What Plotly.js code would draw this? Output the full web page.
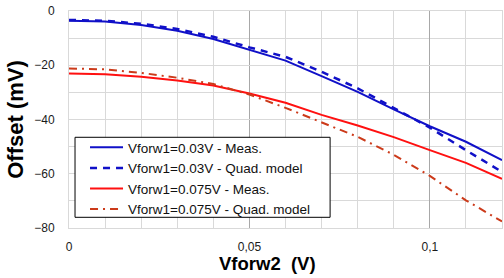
<!DOCTYPE html>
<html>
<head>
<meta charset="utf-8">
<script src="https://cdn.plot.ly/plotly-3.0.1.min.js"></script>
<style>html,body{margin:0;padding:0;background:#fff;}#chart{width:504px;height:278px;}</style>
</head>
<body>
<div id="chart"></div>
<script>
// Vforw2 (V)
var vforw2 = [0, 0.01, 0.02, 0.03, 0.04, 0.05, 0.06, 0.07, 0.08, 0.09, 0.10, 0.11, 0.12];
// Offset (mV)
var meas003 = [-3.6, -3.9, -5.2, -7.3, -10.3, -14.4, -18.3, -24.0, -29.8, -36.3, -42.5, -48.2, -55.0];
var quad003 = [-3.3, -3.6, -4.7, -6.6, -9.5, -13.4, -16.9, -22.4, -28.5, -35.6, -43.0, -51.3, -59.3];
var meas0075 = [-23.0, -23.3, -24.2, -25.6, -27.5, -30.4, -33.8, -38.3, -42.2, -46.5, -51.3, -56.0, -61.9];
var quad0075 = [-21.2, -21.5, -22.8, -24.6, -26.9, -30.8, -35.7, -41.0, -46.4, -53.0, -60.8, -69.8, -77.6];
var seriesNames = ['Vforw1=0.03V - Meas.', 'Vforw1=0.03V - Quad. model', 'Vforw1=0.075V - Meas.', 'Vforw1=0.075V - Quad. model'];
var xTitle = 'Vforw2\u00a0\u00a0(V)';
var yTitle = 'Offset (mV)';

var traces = [
  {x: vforw2, y: meas003, name: seriesNames[0], mode: 'lines', line: {color: '#1010c8', width: 2}},
  {x: vforw2, y: quad003, name: seriesNames[1], mode: 'lines', line: {color: '#1010c8', width: 2.5, dash: '7px,6px'}},
  {x: vforw2, y: meas0075, name: seriesNames[2], mode: 'lines', line: {color: '#ff1010', width: 2}},
  {x: vforw2, y: quad0075, name: seriesNames[3], mode: 'lines', line: {color: '#cc3a1a', width: 2, dash: '8px,5px,2px,5px'}}
];

var font = 'Liberation Sans, Arial, sans-serif';
var layout = {
  width: 504, height: 278,
  margin: {l: 69, r: 2, t: 11, b: 50},
  paper_bgcolor: '#fff', plot_bgcolor: '#fff',
  separators: ',.',
  font: {family: font, size: 12, color: '#1a1a1a'},
  showlegend: true,
  legend: {
    x: 0.037, y: 0.442, xanchor: 'left', yanchor: 'top',
    bgcolor: 'rgba(0,0,0,0)', borderwidth: 0, itemwidth: 33,
    font: {family: font, size: 13.5, color: '#111'},
    tracegroupgap: 0
  },
  shapes: [
    {type: 'rect', xref: 'paper', yref: 'paper', x0: 0.0139, x1: 0.603, y0: 0.0493, y1: 0.418,
     fillcolor: '#fff', line: {color: '#000', width: 1}, layer: 'above'}
  ],
  annotations: [
    {text: xTitle, xref: 'paper', yref: 'paper', x: 0.458, y: -0.163, xanchor: 'center', yanchor: 'middle',
     showarrow: false, font: {family: font, size: 18.5, color: '#000', weight: 'bold'}}
  ],
  xaxis: {
    range: [0, 0.12], dtick: 0.05, tick0: 0,
    showgrid: true, gridcolor: '#a8a8a8', gridwidth: 1,
    minor: {dtick: 0.01, showgrid: true, gridcolor: '#d9d9d9', gridwidth: 1},
    showline: true, linecolor: '#d9d9d9', linewidth: 1, mirror: true,
    zeroline: false, ticks: '', ticklabelstandoff: 8,
    tickfont: {family: font, size: 12, color: '#1a1a1a'}
  },
  yaxis: {
    range: [-80, 0], dtick: 20, tick0: 0,
    showgrid: true, gridcolor: '#d9d9d9', gridwidth: 1,
    minor: {dtick: 10, showgrid: true, gridcolor: '#d9d9d9', gridwidth: 1},
    showline: true, linecolor: '#d9d9d9', linewidth: 1, mirror: true,
    zeroline: false, ticks: '', ticklabelstandoff: 11,
    tickfont: {family: font, size: 12, color: '#1a1a1a'},
    title: {text: yTitle, font: {family: font, size: 22, color: '#000', weight: 'bold'}, standoff: 4}
  }
};

Plotly.newPlot('chart', traces, layout, {staticPlot: true, displayModeBar: false});
</script>
</body>
</html>
